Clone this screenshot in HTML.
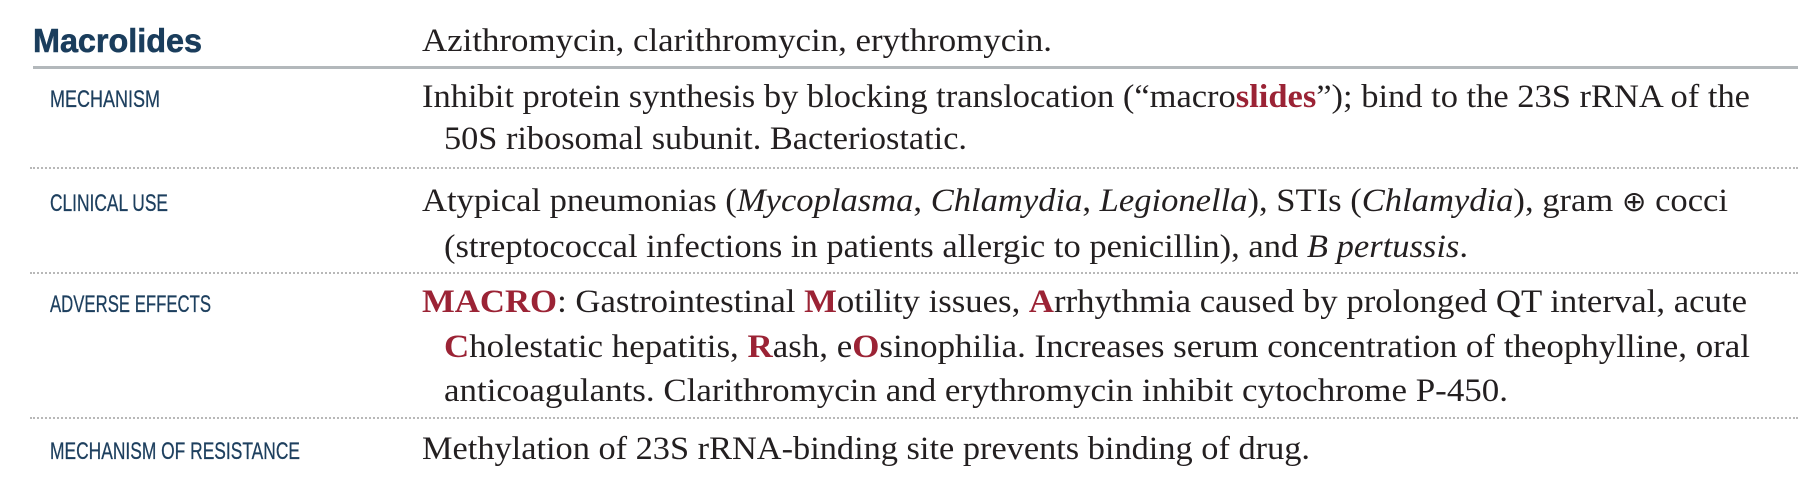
<!DOCTYPE html>
<html><head><meta charset="utf-8"><style>
html,body{margin:0;padding:0;background:#fff;}
body{width:1798px;height:490px;position:relative;overflow:hidden;}
.t{position:absolute;white-space:nowrap;display:inline-block;transform-origin:0 0;line-height:1;}
.s{font-family:"Liberation Serif","DejaVu Serif",serif;font-size:33px;color:#231f20;}
.l{font-family:"Liberation Sans",sans-serif;font-size:24px;color:#1d3f5e;-webkit-text-stroke:0.3px #1d3f5e;}
.r{color:#9b2335;font-weight:bold;}
.solid{position:absolute;left:33px;right:0;top:66px;height:3px;background:#b3b8bb;}
.dot{position:absolute;left:30px;right:0;height:0;border-top:2px dotted #b8b8b8;}
</style></head><body>
<div class="t" data-b="52" data-x="33" data-w="169" style="font-family:'Liberation Sans',sans-serif;font-weight:bold;font-size:33px;color:#1a3d5c;-webkit-text-stroke:0.6px #1a3d5c;">Macrolides</div>
<div class="t s" data-b="52" data-x="422" data-w="630">Azithromycin, clarithromycin, erythromycin.</div>
<div class="solid"></div>

<div class="t l" data-b="108" data-x="50" data-w="110">MECHANISM</div>
<div class="t s" data-b="108" data-x="422" data-w="1328">Inhibit protein synthesis by blocking translocation (“macro<span class="r">slides</span>”); bind to the 23S rRNA of the</div>
<div class="t s" data-b="150" data-x="444" data-w="523">50S ribosomal subunit. Bacteriostatic.</div>
<div class="dot" style="top:167px"></div>

<div class="t l" data-b="212" data-x="50" data-w="118">CLINICAL USE</div>
<div class="t s" data-b="212" data-x="422" data-w="1306">Atypical pneumonias (<i>Mycoplasma</i>, <i>Chlamydia</i>, <i>Legionella</i>), STIs (<i>Chlamydia</i>), gram <span style="font-family:'DejaVu Sans',sans-serif;font-size:28px">⊕</span> cocci</div>
<div class="t s" data-b="258" data-x="444" data-w="1024">(streptococcal infections in patients allergic to penicillin), and <i>B pertussis</i>.</div>
<div class="dot" style="top:272px"></div>

<div class="t l" data-b="313" data-x="50" data-w="161">ADVERSE EFFECTS</div>
<div class="t s" data-b="313" data-x="422" data-w="1325"><span class="r">MACRO</span>: Gastrointestinal <span class="r">M</span>otility issues, <span class="r">A</span>rrhythmia caused by prolonged QT interval, acute</div>
<div class="t s" data-b="358" data-x="444" data-w="1306"><span class="r">C</span>holestatic hepatitis, <span class="r">R</span>ash, e<span class="r">O</span>sinophilia. Increases serum concentration of theophylline, oral</div>
<div class="t s" data-b="402" data-x="444" data-w="1064">anticoagulants. Clarithromycin and erythromycin inhibit cytochrome P-450.</div>
<div class="dot" style="top:417px"></div>

<div class="t l" data-b="460" data-x="50" data-w="250">MECHANISM OF RESISTANCE</div>
<div class="t s" data-b="460" data-x="422" data-w="888">Methylation of 23S rRNA-binding site prevents binding of drug.</div>
<script>
document.querySelectorAll('.t').forEach(function(el){
  var fs=parseFloat(getComputedStyle(el).fontSize);
  var serif=el.classList.contains('s');
  var asc=serif?0.816:0.846;
  el.style.left=el.getAttribute('data-x')+'px';
  el.style.top=(parseFloat(el.getAttribute('data-b'))-asc*fs)+'px';
  var w=el.getBoundingClientRect().width;
  var tw=parseFloat(el.getAttribute('data-w'));
  if(w>0) el.style.transform='scaleX('+(tw/w)+')';
});
</script>
</body></html>
